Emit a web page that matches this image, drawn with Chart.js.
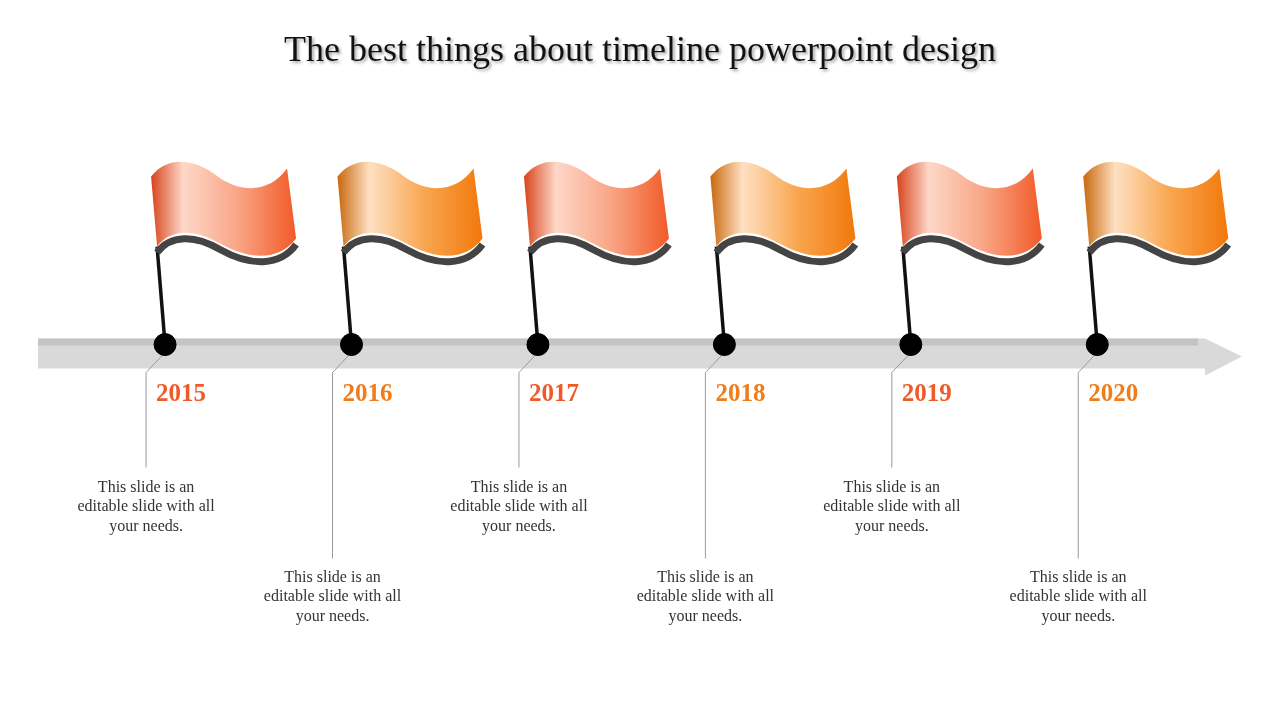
<!DOCTYPE html>
<html>
<head>
<meta charset="utf-8">
<script src="https://cdn.jsdelivr.net/npm/chart.js@4.4.0/dist/chart.umd.min.js"></script>
<style>
  html, body { margin: 0; padding: 0; background: #fff; }
  #wrap { width: 1280px; height: 720px; }
</style>
</head>
<body>
<div id="wrap"><canvas id="timeline" width="1280" height="720"></canvas></div>
<script>
const titleText = 'The best things about timeline powerpoint design';
const years = [2015, 2016, 2017, 2018, 2019, 2020];
const yearColors = ['#f05a28', '#f07c1a', '#f05a28', '#f07c1a', '#f05a28', '#f07c1a'];
const descLines = ['This slide is an', 'editable slide with all', 'your needs.'];
const timelineLevel = 344;

const flagPalettes = {
    red: ['#d8431c', '#fdd8c8', '#f9a585', '#f25a28'],
    orange: ['#c9680e', '#fee0c2', '#f9a650', '#f2780a']
};

const timelinePlugin = {
    id: 'timeline',
    beforeDatasetsDraw(chart) {
        const ctx = chart.ctx;
        const xs = chart.scales.x, ys = chart.scales.y;
        const ly = ys.getPixelForValue(timelineLevel);

        // title
        ctx.save();
        ctx.font = '36px "Liberation Serif", serif';
        ctx.textAlign = 'center';
        ctx.textBaseline = 'middle';
        ctx.shadowColor = 'rgba(0,0,0,0.35)';
        ctx.shadowOffsetX = 2; ctx.shadowOffsetY = 2; ctx.shadowBlur = 3;
        ctx.fillStyle = '#111';
        ctx.fillText(titleText, 640, 52);
        ctx.restore();

        // arrow band
        ctx.save();
        ctx.fillStyle = '#d9d9d9';
        ctx.beginPath();
        ctx.moveTo(38, ly - 6);
        ctx.lineTo(1205, ly - 6);
        ctx.lineTo(1205, ly - 6);
        ctx.lineTo(1242, ly + 12);
        ctx.lineTo(1205, ly + 31);
        ctx.lineTo(1205, ly + 24);
        ctx.lineTo(38, ly + 24);
        ctx.closePath();
        ctx.fill();
        ctx.fillStyle = '#c4c4c4';
        ctx.fillRect(38, ly - 6, 1160, 7);
        ctx.restore();

        years.forEach((yr, i) => {
            const cx = xs.getPixelForValue(yr);
            const odd = i % 2 === 0;

            // leader line
            ctx.save();
            ctx.strokeStyle = '#9a9a9a';
            ctx.lineWidth = 1;
            ctx.beginPath();
            ctx.moveTo(cx - 2, ly + 10);
            ctx.lineTo(cx - 19, ly + 28);
            ctx.lineTo(cx - 19, odd ? ly + 123 : ly + 214);
            ctx.stroke();
            ctx.restore();

            // year label
            ctx.save();
            ctx.font = 'bold 25px "Liberation Serif", serif';
            ctx.fillStyle = yearColors[i];
            ctx.textAlign = 'left';
            ctx.textBaseline = 'alphabetic';
            ctx.fillText(String(yr), cx - 9, ly + 56);
            ctx.restore();

            // description
            ctx.save();
            ctx.font = '16px "Liberation Serif", serif';
            ctx.fillStyle = '#333';
            ctx.textAlign = 'center';
            ctx.textBaseline = 'middle';
            const top = odd ? ly + 143 : ly + 233;
            descLines.forEach((t, k) => ctx.fillText(t, cx - 19, top + k * 19.5));
            ctx.restore();

            // pole
            ctx.save();
            ctx.strokeStyle = '#111';
            ctx.lineWidth = 3.5;
            ctx.beginPath();
            ctx.moveTo(cx, ly);
            ctx.lineTo(cx - 8, ly - 98);
            ctx.stroke();
            ctx.restore();

            // flag shadow
            ctx.save();
            ctx.strokeStyle = '#444';
            ctx.lineWidth = 7;
            ctx.beginPath();
            ctx.moveTo(cx + 131, ly - 100);
            ctx.bezierCurveTo(cx + 115, ly - 78, cx + 85, ly - 78, cx + 55, ly - 95);
            ctx.bezierCurveTo(cx + 30, ly - 110, cx + 5, ly - 110, cx - 8, ly - 92);
            ctx.stroke();
            ctx.restore();

            // flag body
            const pal = odd ? flagPalettes.red : flagPalettes.orange;
            ctx.save();
            const g = ctx.createLinearGradient(cx - 14, 0, cx + 131, 0);
            g.addColorStop(0, pal[0]);
            g.addColorStop(0.22, pal[1]);
            g.addColorStop(0.6, pal[2]);
            g.addColorStop(1, pal[3]);
            ctx.fillStyle = g;
            ctx.beginPath();
            ctx.moveTo(cx - 14, ly - 168);
            ctx.bezierCurveTo(cx + 3, ly - 190, cx + 30, ly - 185, cx + 50, ly - 170);
            ctx.bezierCurveTo(cx + 75, ly - 150, cx + 105, ly - 152, cx + 122, ly - 176);
            ctx.lineTo(cx + 131, ly - 106);
            ctx.bezierCurveTo(cx + 115, ly - 84, cx + 85, ly - 84, cx + 55, ly - 101);
            ctx.bezierCurveTo(cx + 30, ly - 116, cx + 5, ly - 116, cx - 8, ly - 98);
            ctx.closePath();
            ctx.fill();
            ctx.restore();
        });
    }
};

new Chart(document.getElementById('timeline'), {
    type: 'scatter',
    data: {
        datasets: [{
            data: years.map(y => ({ x: y, y: timelineLevel })),
            pointRadius: 11,
            pointHoverRadius: 11,
            backgroundColor: '#000',
            borderColor: '#000'
        }]
    },
    options: {
        responsive: false,
        animation: false,
        layout: { padding: 0 },
        scales: {
            x: { display: false, min: 2015 - 156 / 190, max: 2015 + (1280 - 156) / 190 },
            y: { display: false, min: 0, max: 720, reverse: true }
        },
        plugins: { legend: { display: false }, tooltip: { enabled: false } }
    },
    plugins: [timelinePlugin]
});
</script>
</body>
</html>
